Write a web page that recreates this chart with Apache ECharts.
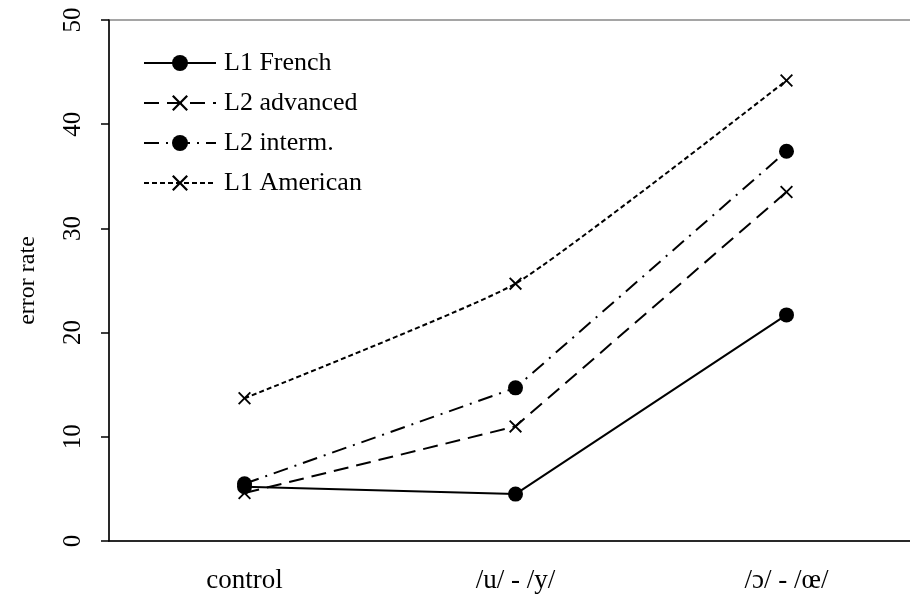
<!DOCTYPE html>
<html>
<head>
<meta charset="utf-8">
<script src="https://cdn.jsdelivr.net/npm/echarts@6/dist/echarts.min.js"></script>
<style>
  html, body { margin: 0; padding: 0; background: #fff; }
  #chart { width: 910px; height: 598px; }
</style>
</head>
<body>
<div id="chart"></div>
<script>
const categories = ['control', '/u/ - /y/', '/ɔ/ - /œ/'];
const l1French = [5.2, 4.5, 21.7];
const l2Advanced = [4.6, 11.0, 33.5];
const l2Interm = [5.5, 14.7, 37.4];
const l1American = [13.7, 24.7, 44.2];

const crossPath = 'path://M0,1L1,0L5,4L9,0L10,1L6,5L10,9L9,10L5,6L1,10L0,9L4,5Z';
const fontFamily = '"Liberation Serif", "Times New Roman", serif';

const chartDom = document.getElementById('chart');
const myChart = echarts.init(chartDom);

function lineSeries(name, data, symbol, symbolSize, dash, smooth) {
    return {
        name: name,
        type: 'line',
        data: data,
        symbol: symbol,
        symbolSize: symbolSize,
        smooth: smooth || false,
        itemStyle: { color: '#000' },
        lineStyle: { color: '#000', width: 2, type: dash },
        emphasis: { disabled: true },
        z: 3
    };
}

const option = {
    animation: false,
    backgroundColor: '#fff',
    textStyle: { fontFamily: fontFamily },
    grid: {
        left: 109,
        top: 20,
        bottom: 57,
        width: 813,
        outerBoundsMode: 'none',
        containLabel: false,
        show: true,
        borderColor: '#888',
        borderWidth: 1.5
    },
    legend: {
        orient: 'vertical',
        left: 143,
        top: 50,
        padding: 0,
        itemWidth: 72,
        itemHeight: 20,
        itemGap: 14,
        textStyle: { fontSize: 26, color: '#000', fontFamily: fontFamily, padding: [0, 0, 0, 3] },
        data: ['L1 French', 'L2 advanced', 'L2 interm.', 'L1 American']
    },
    xAxis: {
        type: 'category',
        data: categories,
        axisLine: { lineStyle: { color: '#000', width: 1.5 } },
        axisTick: { show: false },
        axisLabel: { color: '#000', fontSize: 27, margin: 26, fontFamily: fontFamily },
        splitLine: { show: false }
    },
    yAxis: {
        type: 'value',
        name: 'error rate',
        nameLocation: 'middle',
        nameGap: 69,
        nameRotate: 90,
        nameTextStyle: { color: '#000', fontSize: 24, fontFamily: fontFamily },
        min: 0,
        max: 50,
        interval: 10,
        axisLine: { show: true, lineStyle: { color: '#000', width: 1.5 } },
        axisTick: { show: true, length: 8, lineStyle: { color: '#000', width: 1.5 } },
        axisLabel: { color: '#000', fontSize: 25, rotate: 90, margin: 23, fontFamily: fontFamily },
        splitLine: { show: false }
    },
    series: [
        lineSeries('L1 French', l1French, 'circle', 15, 'solid'),
        lineSeries('L2 advanced', l2Advanced, crossPath, 13, [15, 8]),
        lineSeries('L2 interm.', l2Interm, 'circle', 15, [15, 7, 2, 7]),
        lineSeries('L1 American', l1American, crossPath, 13, [5, 3], 0.15)
    ]
};

myChart.setOption(option);

window.addEventListener('resize', () => {
    myChart.resize();
});
</script>
</body>
</html>
